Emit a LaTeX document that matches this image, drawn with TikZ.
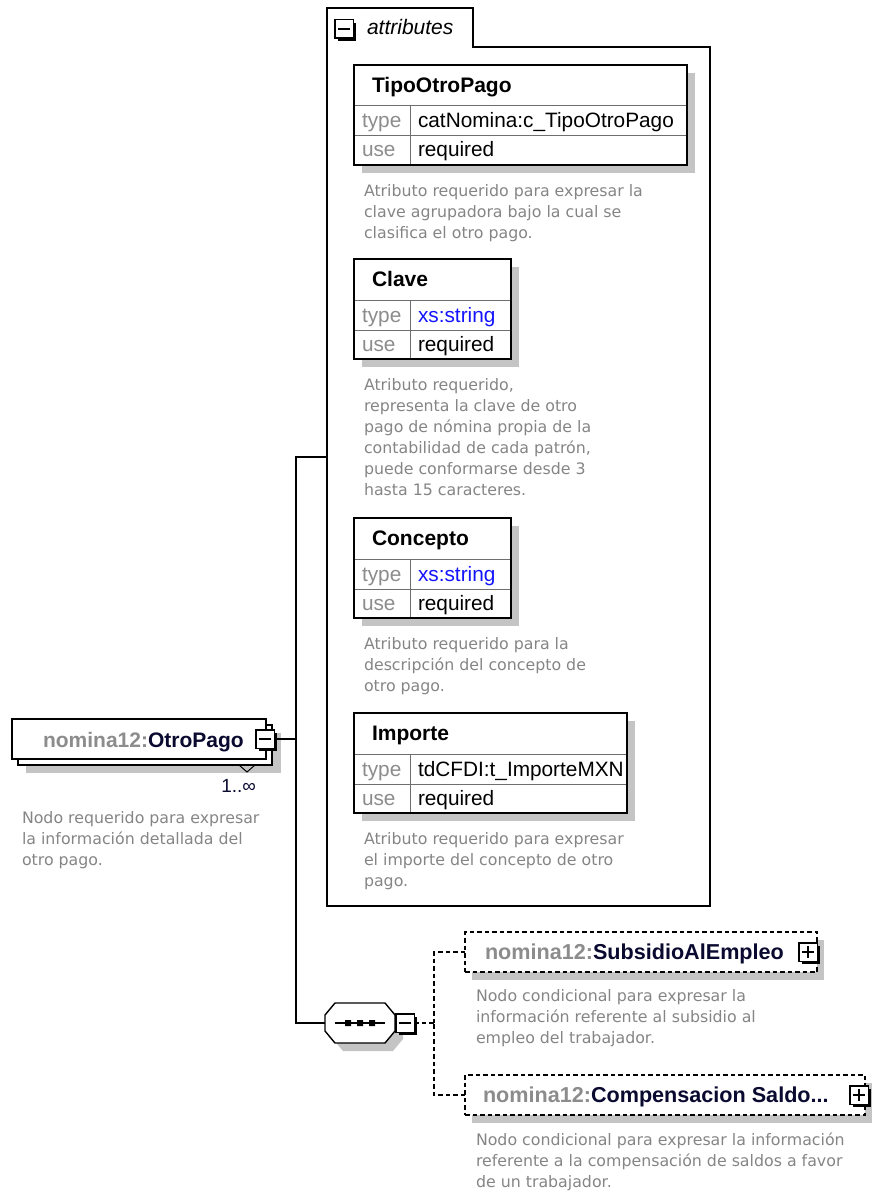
\documentclass[tikz,border=0pt]{standalone}
\usepackage{fontspec}
\setmainfont{Liberation Sans}
\newfontfamily\descfont{DejaVu Sans}
\definecolor{shadowc}{HTML}{C4C4C4}
\definecolor{lblgray}{HTML}{8C8C8C}
\definecolor{descgray}{HTML}{858585}
\definecolor{namec}{HTML}{0A0A30}
\definecolor{rulec}{HTML}{6E6E6E}
\definecolor{xsblue}{HTML}{1414FF}
\newcommand\hdrf{\fontsize{21}{24}\selectfont\bfseries}
\newcommand\childf{\fontsize{21.6}{25}\selectfont\bfseries}
\newcommand\txtf{\fontsize{20.8}{24}\selectfont}
\newcommand\descf{\descfont\fontsize{15.8}{21}\selectfont}
\tikzset{
  abox/.style={draw=black, line width=1.8pt, fill=white, minimum height=100pt, inner sep=0pt, outer sep=0pt},
  ebox/.style={draw=black, line width=1.5pt, fill=white, inner sep=0pt, outer sep=0pt, minimum height=40pt},
  dbox/.style={ebox, dash pattern=on 4.5pt off 3pt},
  rowline/.style={draw=rulec, line width=1pt},
  txt/.style={inner sep=0pt, outer sep=0pt, font=\txtf},
  desc/.style={inner sep=0pt, outer sep=0pt, align=left, font=\descf, text=descgray, anchor=north west},
  iconst/.style={draw=black, fill=white, line width=1.5pt, minimum size=18.5pt, inner sep=0pt, outer sep=0pt},
  conn/.style={draw=black, line width=1.5pt},
  dashconn/.style={draw=black, line width=1.5pt, dash pattern=on 4.5pt off 3pt},
  frameline/.style={draw=black, line width=1.5pt},
  blank/.style={inner sep=0pt, outer sep=0pt}
}
% attribute box: name, x, y, width, header, type value, type colour
\newcommand\attrbox[7]{%
  \fill[shadowc] (#2+8,#3+8) rectangle (#2+#4+8,#3+108);
  \node[abox, minimum width=#4pt, anchor=north west] (#1) at (#2,#3) {};
  \draw[rowline] (#2,#3+41) -- (#2+#4,#3+41) (#2,#3+71) -- (#2+#4,#3+71) (#2+56,#3+41) -- (#2+56,#3+100);
  \draw[line width=1.8pt] (#1.north west) rectangle (#1.south east);
  \node[txt, anchor=base west, font=\hdrf] (#1h) at (#2+18,#3+27.5) {#5};
  \node[txt, anchor=base west, text=lblgray] (#1tl) at (#2+8,#3+63) {type};
  \node[txt, anchor=base west, text=#7] (#1tv) at (#2+64,#3+63) {#6};
  \node[txt, anchor=base west, text=lblgray] (#1ul) at (#2+8,#3+92) {use};
  \node[txt, anchor=base west] (#1uv) at (#2+64,#3+92) {required};
}
% expand / collapse icons: name, cx, cy
\newcommand\minusicon[3]{%
  \fill[black] (#2-6.25,#3-6.25) rectangle (#2+12.25,#3+12.25);
  \node[iconst] (#1) at (#2,#3) {};
  \draw[line width=1.4pt] (#2-6,#3) -- (#2+6,#3);
}
\newcommand\plusicon[3]{%
  \fill[black] (#2-6.25,#3-6.25) rectangle (#2+12.25,#3+12.25);
  \node[iconst] (#1) at (#2,#3) {};
  \draw[line width=1.4pt] (#2-6,#3) -- (#2+6,#3) (#2,#3-6) -- (#2,#3+6);
}
\begin{document}
\begin{tikzpicture}[x=1pt,y=-1pt]
\useasboundingbox (0,0) rectangle (878,1193);

% ---------- attributes frame ----------
\node[blank, minimum width=146pt, minimum height=39pt, anchor=north west] (tab) at (327,8) {};
\node[blank, minimum width=383pt, minimum height=859pt, anchor=north west] (attrs) at (327,47) {};
\draw[frameline] (tab.south west) -- (tab.north west) -- (tab.north east) -- (tab.south east)
  -- (attrs.north east) -- (attrs.south east) -- (attrs.south west) -- cycle;
\minusicon{tabicon}{344}{29}
\node[txt, anchor=base west, font=\fontsize{21}{24}\selectfont\itshape] (tabtext) at (367,35) {attributes};

\attrbox{tipo}{354}{65}{333}{TipoOtroPago}{catNomina:c\_TipoOtroPago}{black}
\node[desc] (tipod) at (364,184.5) {Atributo requerido para expresar la\\clave agrupadora bajo la cual se\\clasifica el otro pago.};

\attrbox{clave}{354}{259}{157}{Clave}{xs:string}{xsblue}
\node[desc] (claved) at (364,378.5) {Atributo requerido,\\representa la clave de otro\\pago de nómina propia de la\\contabilidad de cada patrón,\\puede conformarse desde 3\\hasta 15 caracteres.};

\attrbox{conc}{354}{518}{157}{Concepto}{xs:string}{xsblue}
\node[desc] (concd) at (364,637.5) {Atributo requerido para la\\descripción del concepto de\\otro pago.};

\attrbox{imp}{354}{713}{273}{Importe}{tdCFDI:t\_ImporteMXN}{black}
\node[desc] (impd) at (364,832.5) {Atributo requerido para expresar\\el importe del concepto de otro\\pago.};

% ---------- OtroPago element ----------
\fill[shadowc] (26,733) rectangle (281,773);
\node[ebox, minimum width=254pt, anchor=north west] (opback) at (18,725) {};
\node[ebox, minimum width=254pt, anchor=north west] (op) at (12,719) {};
\node[txt, anchor=base west, font=\hdrf] (opt) at (43,747) {\textcolor{lblgray}{nomina12:}\textcolor{namec}{OtroPago}};
\draw[black, line width=1pt] (239,765) -- (247,772) -- (255,765);
\node[txt, anchor=base east, font=\fontsize{19}{22}\selectfont, text=namec] (opcard) at (256,792) {1..∞};
\node[desc] (opd) at (22,811.5) {Nodo requerido para expresar\\la información detallada del\\otro pago.};

% ---------- sequence compositor ----------
\node[blank, minimum width=70pt, minimum height=40pt] (seq) at (360,1023) {};
\fill[shadowc] (333,1023) -- (343,1011) -- (393,1011) -- (403,1023) -- (403,1039) -- (393,1051) -- (343,1051) -- (333,1039) -- cycle;
\draw[black, line width=1.4pt, fill=white] (325,1015) -- (335,1003) -- (385,1003) -- (395,1015) -- (395,1031) -- (385,1043) -- (335,1043) -- (325,1031) -- cycle;
\draw[black, line width=1.4pt] (335,1023) -- (385,1023);
\fill[black] (345,1020) rectangle (351,1026) (357,1020) rectangle (363,1026) (369,1020) rectangle (375,1026);

% ---------- child elements ----------
\fill[shadowc] (472,940) rectangle (824,980);
\node[dbox, minimum width=352pt, anchor=north west] (sub) at (465,932) {};
\node[txt, anchor=base west, font=\childf] (subt) at (485,959) {\textcolor{lblgray}{nomina12:}\textcolor{namec}{SubsidioAlEmpleo}};
\node[desc] (subd) at (476,989.5) {Nodo condicional para expresar la\\información referente al subsidio al\\empleo del trabajador.};

\fill[shadowc] (472,1083) rectangle (872,1123);
\node[dbox, minimum width=400pt, anchor=north west] (comp) at (465,1075) {};
\node[txt, anchor=base west, font=\childf] (compt) at (483,1102) {\textcolor{lblgray}{nomina12:}\textcolor{namec}{Compensacion Saldo...}};
\node[desc] (compd) at (476,1132.5) {Nodo condicional para expresar la información\\referente a la compensación de saldos a favor\\de un trabajador.};

% ---------- connectors ----------
\coordinate (fa) at (327,457);
\coordinate (ta) at (296,457);
\coordinate (tb) at (296,1023);
\coordinate (tj) at (296,739);
\coordinate (dv) at (434,1023);
\draw[conn] (fa) -- (ta) -- (tb) -- (seq.west);

\minusicon{opicon}{265}{739}
\minusicon{seqicon}{405}{1023}
\plusicon{subicon}{808}{952}
\plusicon{compicon}{859}{1095}

\draw[conn] (opicon.east) -- (tj);
\draw[dashconn] (seqicon.east) -- (dv);
\draw[dashconn] (sub.west) -| (dv);
\draw[dashconn] (comp.west) -| (dv);
\end{tikzpicture}
\end{document}
